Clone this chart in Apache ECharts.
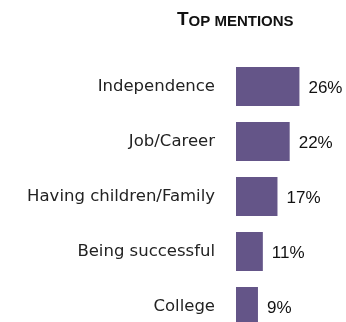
<!DOCTYPE html>
<html>
<head>
<meta charset="utf-8">
<script src="https://cdn.jsdelivr.net/npm/echarts@6/dist/echarts.min.js"></script>
<style>
  html, body { margin: 0; padding: 0; background: #fff; }
  #chart { width: 346px; height: 322px; }
</style>
</head>
<body>
<div id="chart"></div>
<script>
// Top mentions, share of respondents (%)
const categories = ['Independence', 'Job/Career', 'Having children/Family', 'Being successful', 'College'];
const values = [26, 22, 17, 11, 9];

const chart = echarts.init(document.getElementById('chart'), null, { renderer: 'canvas' });

chart.setOption({
  animation: false,
  backgroundColor: '#ffffff',
  title: {
    text: '{big|T}{small|OP MENTIONS}',
    left: 177,
    top: 10,
    padding: 0,
    textStyle: {
      rich: {
        big: { fontFamily: 'Liberation Sans', fontSize: 19, fontWeight: 'bold', color: '#111', verticalAlign: 'bottom' },
        small: { fontFamily: 'Liberation Sans', fontSize: 15, fontWeight: 'bold', color: '#111', verticalAlign: 'bottom' }
      }
    }
  },
  grid: { left: 236, top: 59, width: 73.2, height: 275, containLabel: false, outerBoundsMode: 'none' },
  xAxis: {
    type: 'value',
    min: 0,
    max: 30,
    show: false
  },
  yAxis: {
    type: 'category',
    data: categories,
    inverse: true,
    axisLine: { show: false },
    axisTick: { show: false },
    splitLine: { show: false },
    axisLabel: {
      margin: 21,
      fontFamily: 'DejaVu Sans',
      fontSize: 16.5,
      color: '#222'
    }
  },
  series: [{
    type: 'bar',
    data: values,
    barWidth: 39,
    itemStyle: { color: '#645588' },
    label: {
      show: true,
      position: 'right',
      distance: 9,
      formatter: '{c}%',
      fontFamily: 'Liberation Sans',
      fontSize: 17,
      color: '#111',
      offset: [0, 2]
    }
  }]
});
</script>
</body>
</html>
